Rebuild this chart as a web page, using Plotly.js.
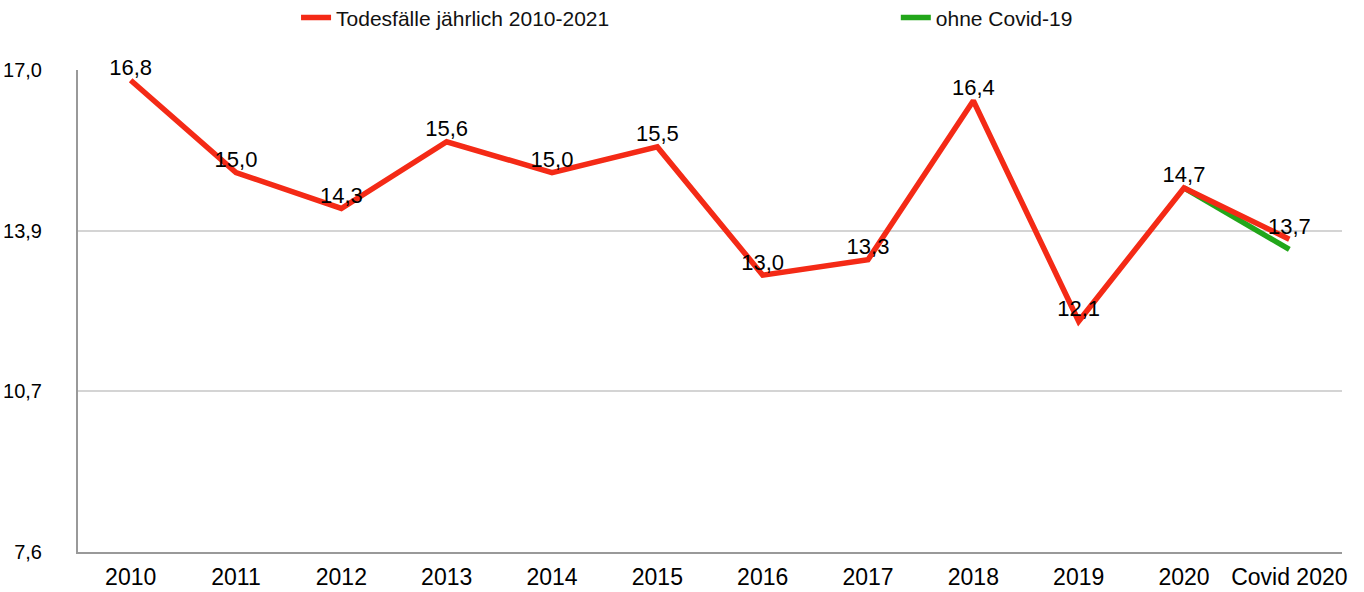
<!DOCTYPE html>
<html>
<head>
<meta charset="utf-8">
<script src="https://cdn.plot.ly/plotly-3.0.1.min.js"></script>
<style>html,body{margin:0;padding:0;background:#fff;}#chart{width:1364px;height:592px;}</style>
</head>
<body>
<div id="chart"></div>
<script>
const categories = ["2010","2011","2012","2013","2014","2015","2016","2017","2018","2019","2020","Covid 2020"];
const deaths = [16.8, 15.0, 14.3, 15.6, 15.0, 15.5, 13.0, 13.3, 16.4, 12.1, 14.7, 13.7];
const withoutCovid = [null, null, null, null, null, null, null, null, null, null, 14.7, 13.5];
const yTickVals = [7.6, 10.7333, 13.8667, 17.0];
const yTickText = ["7,6", "10,7", "13,9", "17,0"];
const seriesNames = ["Todesfälle jährlich 2010-2021", "ohne Covid-19"];

const font = "Liberation Sans, Arial, sans-serif";

const traces = [
  {
    x: categories, y: withoutCovid, name: seriesNames[1], type: "scatter", mode: "lines",
    line: {color: "#22a61a", width: 5.5}, connectgaps: false, legend: "legend2"
  },
  {
    x: categories, y: deaths, name: seriesNames[0], type: "scatter", mode: "lines+text",
    line: {color: "#f42a16", width: 5.5}, legend: "legend", cliponaxis: false,
    texttemplate: "%{y:.1f}", textposition: "top center",
    textfont: {family: font, size: 22, color: "#000"}
  }
];

const legendBase = {
  orientation: "h", y: 1.108, xanchor: "left", yanchor: "middle",
  font: {family: font, size: 21, color: "#111"}, bgcolor: "rgba(0,0,0,0)"
};

const layout = {
  width: 1364, height: 592,
  margin: {l: 78, r: 22, t: 70, b: 40, autoexpand: false},
  paper_bgcolor: "#fff", plot_bgcolor: "#fff",
  separators: ",.",
  font: {family: font, color: "#000"},
  showlegend: true,
  legend: Object.assign({}, legendBase, {x: 0.1725}),
  legend2: Object.assign({}, legendBase, {x: 0.647}),
  xaxis: {
    type: "category", range: [-0.5, 11.5],
    showgrid: false, zeroline: false,
    showline: true, linecolor: "#999", linewidth: 2,
    ticks: "", ticklabelstandoff: 3,
    tickfont: {family: font, size: 23, color: "#000"}
  },
  yaxis: {
    range: [7.6, 17.0], tickmode: "array", tickvals: yTickVals, ticktext: yTickText,
    showgrid: true, gridcolor: "#d4d4d4", gridwidth: 2,
    zeroline: false, showline: true, linecolor: "#999", linewidth: 2,
    ticks: "", ticklabelstandoff: 30,
    tickfont: {family: font, size: 20, color: "#000"}
  }
};

Plotly.newPlot("chart", traces, layout, {displayModeBar: false, staticPlot: true});
</script>
</body>
</html>
